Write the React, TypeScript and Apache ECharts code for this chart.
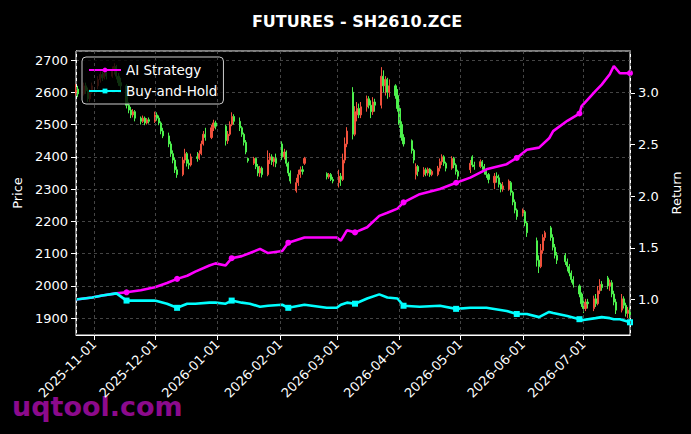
import { useEffect, useRef } from 'react';
import * as echarts from 'echarts';

// [date, open, close, low, high]
const candles: [string, number, number, number, number][] = [
  ['2025-10-23', 2600, 2610, 2590, 2625],
  ['2025-10-24', 2610, 2595, 2585, 2620],
  ['2025-10-27', 2595, 2620, 2590, 2630],
  ['2025-10-28', 2620, 2605, 2595, 2630],
  ['2025-10-29', 2605, 2580, 2570, 2615],
  ['2025-10-30', 2580, 2600, 2570, 2610],
  ['2025-10-31', 2600, 2620, 2595, 2630],
  ['2025-11-03', 2620, 2640, 2610, 2650],
  ['2025-11-04', 2640, 2655, 2630, 2665],
  ['2025-11-05', 2655, 2645, 2635, 2665],
  ['2025-11-06', 2645, 2660, 2640, 2670],
  ['2025-11-07', 2660, 2650, 2640, 2665],
  ['2025-11-10', 2650, 2670, 2645, 2680],
  ['2025-11-11', 2670, 2680, 2655, 2690],
  ['2025-11-12', 2680, 2650, 2640, 2685],
  ['2025-11-13', 2650, 2630, 2620, 2660],
  ['2025-11-14', 2630, 2620, 2600, 2645],
  ['2025-11-17', 2620, 2560, 2550, 2625],
  ['2025-11-18', 2560, 2545, 2535, 2570],
  ['2025-11-19', 2545, 2530, 2520, 2555],
  ['2025-11-20', 2530, 2540, 2522, 2548],
  ['2025-11-21', 2540, 2520, 2510, 2545],
  ['2025-11-24', 2520, 2510, 2500, 2525],
  ['2025-11-25', 2510, 2520, 2505, 2528],
  ['2025-11-26', 2520, 2505, 2498, 2525],
  ['2025-11-27', 2505, 2515, 2500, 2520],
  ['2025-11-28', 2515, 2510, 2503, 2522],
  ['2025-12-01', 2510, 2530, 2505, 2540],
  ['2025-12-02', 2530, 2520, 2512, 2538],
  ['2025-12-03', 2520, 2505, 2498, 2528],
  ['2025-12-04', 2505, 2480, 2470, 2510],
  ['2025-12-05', 2480, 2465, 2458, 2490],
  ['2025-12-08', 2465, 2440, 2430, 2475],
  ['2025-12-09', 2440, 2410, 2400, 2448],
  ['2025-12-10', 2410, 2390, 2380, 2420],
  ['2025-12-11', 2390, 2360, 2350, 2398],
  ['2025-12-12', 2360, 2345, 2335, 2370],
  ['2025-12-15', 2345, 2390, 2340, 2400],
  ['2025-12-16', 2390, 2410, 2380, 2425],
  ['2025-12-17', 2410, 2380, 2370, 2415],
  ['2025-12-18', 2380, 2375, 2362, 2392],
  ['2025-12-19', 2375, 2400, 2370, 2410],
  ['2025-12-22', 2400, 2395, 2385, 2415],
  ['2025-12-23', 2395, 2410, 2390, 2420],
  ['2025-12-24', 2410, 2440, 2405, 2450],
  ['2025-12-25', 2440, 2470, 2435, 2480],
  ['2025-12-26', 2470, 2460, 2450, 2490],
  ['2025-12-29', 2460, 2490, 2455, 2500],
  ['2025-12-30', 2490, 2505, 2480, 2515],
  ['2025-12-31', 2505, 2495, 2485, 2512],
  ['2026-01-05', 2495, 2450, 2435, 2500],
  ['2026-01-06', 2450, 2470, 2440, 2480],
  ['2026-01-07', 2470, 2500, 2465, 2510],
  ['2026-01-08', 2500, 2525, 2495, 2538],
  ['2026-01-09', 2525, 2510, 2500, 2532],
  ['2026-01-12', 2510, 2490, 2480, 2522],
  ['2026-01-13', 2490, 2470, 2462, 2495],
  ['2026-01-14', 2470, 2445, 2435, 2475],
  ['2026-01-15', 2445, 2415, 2408, 2452],
  ['2026-01-16', 2395, 2388, 2382, 2398],
  ['2026-01-19', 2380, 2395, 2375, 2400],
  ['2026-01-20', 2395, 2370, 2362, 2398],
  ['2026-01-21', 2370, 2350, 2340, 2378],
  ['2026-01-22', 2350, 2365, 2338, 2372],
  ['2026-01-23', 2365, 2345, 2336, 2370],
  ['2026-01-26', 2345, 2390, 2340, 2420],
  ['2026-01-27', 2390, 2400, 2378, 2412],
  ['2026-01-28', 2400, 2385, 2375, 2408],
  ['2026-01-29', 2385, 2395, 2370, 2400],
  ['2026-01-30', 2395, 2380, 2368, 2410],
  ['2026-02-02', 2440, 2400, 2390, 2448],
  ['2026-02-03', 2400, 2415, 2392, 2425],
  ['2026-02-04', 2415, 2380, 2370, 2420],
  ['2026-02-05', 2380, 2350, 2340, 2385],
  ['2026-02-06', 2350, 2325, 2317, 2358],
  ['2026-02-09', 2295, 2320, 2289, 2335],
  ['2026-02-10', 2320, 2345, 2310, 2360],
  ['2026-02-11', 2345, 2360, 2335, 2370],
  ['2026-02-12', 2360, 2355, 2345, 2372],
  ['2026-02-13', 2380, 2395, 2375, 2400],
  ['2026-02-24', 2348, 2338, 2330, 2352],
  ['2026-02-25', 2338, 2345, 2332, 2350],
  ['2026-02-26', 2345, 2330, 2325, 2350],
  ['2026-02-27', 2330, 2325, 2318, 2338],
  ['2026-03-02', 2320, 2340, 2305, 2360],
  ['2026-03-03', 2340, 2330, 2310, 2350],
  ['2026-03-04', 2330, 2390, 2325, 2410],
  ['2026-03-05', 2390, 2440, 2380, 2460],
  ['2026-03-06', 2440, 2480, 2430, 2492],
  ['2026-03-09', 2600, 2470, 2454, 2616],
  ['2026-03-10', 2470, 2540, 2464, 2557],
  ['2026-03-11', 2530, 2550, 2510, 2570],
  ['2026-03-12', 2550, 2530, 2520, 2565],
  ['2026-03-13', 2530, 2555, 2520, 2570],
  ['2026-03-16', 2555, 2580, 2540, 2590],
  ['2026-03-17', 2580, 2560, 2550, 2588],
  ['2026-03-18', 2560, 2540, 2520, 2575],
  ['2026-03-19', 2540, 2570, 2530, 2585],
  ['2026-03-20', 2570, 2560, 2540, 2580],
  ['2026-03-23', 2560, 2650, 2550, 2678],
  ['2026-03-24', 2650, 2620, 2600, 2668],
  ['2026-03-25', 2620, 2640, 2590, 2650],
  ['2026-03-26', 2640, 2600, 2580, 2645],
  ['2026-03-27', 2600, 2620, 2585, 2640],
  ['2026-03-30', 2620, 2590, 2580, 2625],
  ['2026-03-31', 2590, 2550, 2540, 2610],
  ['2026-04-01', 2550, 2500, 2490, 2560],
  ['2026-04-02', 2500, 2460, 2450, 2510],
  ['2026-04-03', 2460, 2440, 2432, 2470],
  ['2026-04-07', 2450, 2420, 2410, 2454],
  ['2026-04-08', 2420, 2390, 2380, 2425],
  ['2026-04-09', 2345, 2370, 2330, 2380],
  ['2026-04-10', 2370, 2355, 2340, 2375],
  ['2026-04-13', 2345, 2360, 2338, 2368],
  ['2026-04-14', 2360, 2350, 2340, 2366],
  ['2026-04-15', 2350, 2362, 2342, 2367],
  ['2026-04-16', 2362, 2345, 2338, 2365],
  ['2026-04-17', 2345, 2355, 2340, 2360],
  ['2026-04-20', 2345, 2365, 2340, 2372],
  ['2026-04-21', 2365, 2385, 2355, 2395],
  ['2026-04-22', 2385, 2400, 2375, 2408],
  ['2026-04-23', 2400, 2380, 2372, 2405],
  ['2026-04-24', 2380, 2365, 2355, 2385],
  ['2026-04-27', 2365, 2395, 2360, 2402],
  ['2026-04-28', 2395, 2375, 2365, 2400],
  ['2026-04-29', 2375, 2355, 2345, 2380],
  ['2026-04-30', 2355, 2340, 2330, 2360],
  ['2026-05-06', 2360, 2380, 2350, 2390],
  ['2026-05-07', 2400, 2375, 2368, 2405],
  ['2026-05-08', 2375, 2370, 2360, 2385],
  ['2026-05-11', 2370, 2385, 2365, 2392],
  ['2026-05-12', 2385, 2370, 2360, 2390],
  ['2026-05-13', 2370, 2355, 2345, 2378],
  ['2026-05-14', 2355, 2345, 2335, 2362],
  ['2026-05-15', 2345, 2330, 2318, 2350],
  ['2026-05-18', 2320, 2340, 2300, 2350],
  ['2026-05-19', 2340, 2335, 2320, 2352],
  ['2026-05-20', 2335, 2315, 2305, 2345],
  ['2026-05-21', 2315, 2300, 2290, 2320],
  ['2026-05-22', 2300, 2310, 2292, 2322],
  ['2026-05-25', 2300, 2325, 2295, 2330],
  ['2026-05-26', 2320, 2290, 2280, 2325],
  ['2026-05-27', 2290, 2260, 2250, 2295],
  ['2026-05-28', 2260, 2235, 2225, 2268],
  ['2026-05-29', 2235, 2215, 2205, 2240],
  ['2026-06-01', 2225, 2235, 2215, 2240],
  ['2026-06-02', 2230, 2195, 2185, 2235],
  ['2026-06-03', 2195, 2165, 2152, 2200],
  ['2026-06-08', 2140, 2080, 2060, 2150],
  ['2026-06-09', 2080, 2060, 2040, 2095],
  ['2026-06-10', 2060, 2110, 2055, 2130],
  ['2026-06-11', 2110, 2150, 2100, 2160],
  ['2026-06-12', 2150, 2165, 2140, 2171],
  ['2026-06-15', 2180, 2150, 2140, 2186],
  ['2026-06-16', 2150, 2120, 2110, 2160],
  ['2026-06-17', 2120, 2095, 2085, 2130],
  ['2026-06-18', 2095, 2080, 2068, 2105],
  ['2026-06-22', 2095, 2075, 2065, 2102],
  ['2026-06-23', 2075, 2060, 2045, 2085],
  ['2026-06-24', 2060, 2040, 2030, 2068],
  ['2026-06-25', 2040, 2020, 2010, 2048],
  ['2026-06-26', 2020, 2005, 1995, 2030],
  ['2026-06-29', 2000, 1975, 1965, 2005],
  ['2026-06-30', 1975, 1945, 1935, 1980],
  ['2026-07-01', 1945, 1930, 1916, 1955],
  ['2026-07-02', 1930, 1950, 1922, 1960],
  ['2026-07-03', 1950, 1945, 1930, 1960],
  ['2026-07-06', 1930, 1960, 1922, 1970],
  ['2026-07-07', 1960, 1945, 1935, 1975],
  ['2026-07-08', 1945, 1985, 1940, 2000],
  ['2026-07-09', 1985, 2005, 1975, 2021],
  ['2026-07-10', 2005, 1995, 1985, 2015],
  ['2026-07-13', 2025, 2000, 1990, 2031],
  ['2026-07-14', 2000, 2010, 1985, 2020],
  ['2026-07-15', 2010, 1975, 1965, 2018],
  ['2026-07-16', 1975, 1950, 1940, 1985],
  ['2026-07-17', 1950, 1925, 1913, 1960],
  ['2026-07-20', 1925, 1960, 1918, 1975],
  ['2026-07-21', 1960, 1940, 1930, 1968],
  ['2026-07-22', 1940, 1915, 1905, 1948],
  ['2026-07-23', 1915, 1925, 1900, 1935],
  ['2026-07-24', 1925, 1910, 1900, 1932],
];

const lineDates = [
  '2025-10-23', '2025-10-31', '2025-11-05', '2025-11-12', '2025-11-17', '2025-11-24',
  '2025-12-01', '2025-12-07', '2025-12-12', '2025-12-17', '2025-12-21', '2025-12-28',
  '2025-12-31', '2026-01-05', '2026-01-08', '2026-01-13', '2026-01-17', '2026-01-22',
  '2026-01-26', '2026-02-02', '2026-02-05', '2026-02-13', '2026-02-24', '2026-03-01',
  '2026-03-03', '2026-03-06', '2026-03-10', '2026-03-16', '2026-03-22', '2026-03-26',
  '2026-03-31', '2026-04-03', '2026-04-11', '2026-04-21', '2026-04-29', '2026-05-06',
  '2026-05-14', '2026-05-24', '2026-05-29', '2026-06-03', '2026-06-09', '2026-06-14',
  '2026-06-16', '2026-06-23', '2026-06-29', '2026-06-30', '2026-07-07', '2026-07-10',
  '2026-07-14', '2026-07-16', '2026-07-19', '2026-07-24',
];

const aiStrategy = [
  1.00, 1.02, 1.04, 1.06, 1.07, 1.09,
  1.12, 1.16, 1.20, 1.23, 1.27, 1.33,
  1.35, 1.33, 1.40, 1.42, 1.45, 1.49,
  1.45, 1.47, 1.55, 1.60, 1.60, 1.60,
  1.57, 1.67, 1.65, 1.70, 1.81, 1.84,
  1.88, 1.94, 2.02, 2.07, 2.13, 2.18,
  2.26, 2.31, 2.37, 2.45, 2.47, 2.56,
  2.63, 2.73, 2.80, 2.87, 3.02, 3.08,
  3.18, 3.26, 3.19, 3.19,
];

const buyHold = [
  1.00, 1.02, 1.04, 1.06, 0.99, 0.99,
  0.99, 0.96, 0.92, 0.96, 0.96, 0.97,
  0.97, 0.96, 0.99, 0.97, 0.96, 0.93,
  0.94, 0.95, 0.92, 0.95, 0.92, 0.92,
  0.95, 0.97, 0.96, 1.01, 1.05, 1.02,
  1.01, 0.94, 0.93, 0.94, 0.91, 0.92,
  0.92, 0.89, 0.86, 0.86, 0.83, 0.88,
  0.87, 0.84, 0.81, 0.80, 0.82, 0.83,
  0.82, 0.81, 0.81, 0.78,
];

const markerDates = [
  '2025-11-17', '2025-12-12', '2026-01-08', '2026-02-05', '2026-03-10',
  '2026-04-03', '2026-04-29', '2026-05-29', '2026-06-29', '2026-07-24',
];

const FONT = 'DejaVu Sans';

const t = (s: string) => {
  const [y, m, d] = s.split('-').map(Number);
  return new Date(y, m - 1, d).getTime();
};

const pad = (n: number) => (n < 10 ? '0' + n : '' + n);
const fmtDate = (v: number) => {
  const d = new Date(v);
  return d.getFullYear() + '-' + pad(d.getMonth() + 1) + '-' + pad(d.getDate());
};

const App = () => {
  const chartRef = useRef<HTMLDivElement | null>(null);

  useEffect(() => {
    if (!chartRef.current) return;
    const chart = echarts.init(chartRef.current, null, { renderer: 'svg' });

    const lineData = (vals: number[]) =>
      lineDates.map((d, i) => ({
        value: [t(d), vals[i]],
        symbol: markerDates.includes(d) ? undefined : 'none',
      }));

    const option = {
      animation: false,
      backgroundColor: '#000000',
      textStyle: { fontFamily: FONT },
      title: {
        text: 'FUTURES - SH2610.ZCE',
        left: 352,
        top: 8,
        textAlign: 'center',
        textStyle: { color: '#ffffff', fontSize: 16, fontWeight: 'bold', fontFamily: FONT },
      },
      legend: {
        data: ['AI Strategy', 'Buy-and-Hold'],
        orient: 'vertical',
        left: 82,
        top: 57,
        itemWidth: 32,
        itemHeight: 6,
        itemGap: 7,
        padding: [6, 6, 6, 6],
        backgroundColor: 'rgba(0,0,0,0.8)',
        borderColor: '#cccccc',
        borderWidth: 1,
        borderRadius: 4,
        textStyle: { color: '#ffffff', fontSize: 13.5, fontFamily: FONT, lineHeight: 14 },
      },
      grid: {
        left: 76,
        right: 61,
        top: 51,
        bottom: 99,
        show: true,
        borderColor: '#ffffff',
        borderWidth: 1,
      },
      graphic: [
        {
          type: 'text',
          left: 12,
          top: 393,
          z: -1,
          style: {
            text: 'uqtool.com',
            fill: '#8c0a8c',
            font: 'bold 27px "DejaVu Sans"',
          },
        },
      ],
      xAxis: {
        type: 'time',
        min: t('2025-10-23'),
        max: t('2026-07-24'),
        splitNumber: 9,
        z: 5,
        axisLine: { lineStyle: { color: '#ffffff' } },
        axisTick: { length: 5, lineStyle: { color: '#ffffff' } },
        axisLabel: {
          rotate: 45,
          color: '#ffffff',
          fontSize: 13,
          fontFamily: FONT,
          margin: 7,
          showMinLabel: false,
          showMaxLabel: false,
          hideOverlap: false,
          formatter: (v: number) => fmtDate(v),
        },
        splitLine: { show: true, lineStyle: { color: '#555555', type: [3, 3], width: 0.8 } },
      },
      yAxis: [
        {
          type: 'value',
          min: 1848,
          max: 2728,
          splitNumber: 9,
          name: 'Price',
          nameLocation: 'middle',
          nameGap: 50,
          nameRotate: 90,
          nameTextStyle: { color: '#ffffff', fontSize: 13, fontFamily: FONT },
          axisLine: { show: true, lineStyle: { color: '#ffffff' } },
          axisTick: { show: true, length: 5, lineStyle: { color: '#ffffff' } },
          axisLabel: {
            color: '#ffffff',
            fontSize: 13,
            fontFamily: FONT,
            margin: 8,
            showMinLabel: false,
            showMaxLabel: false,
            formatter: (v: number) => String(Math.round(v)),
          },
          splitLine: { show: true, lineStyle: { color: '#555555', type: [3, 3], width: 0.8 } },
        },
        {
          type: 'value',
          position: 'right',
          min: 0.657,
          max: 3.405,
          splitNumber: 5,
          name: 'Return',
          nameLocation: 'middle',
          nameGap: 38,
          nameRotate: 90,
          nameTextStyle: { color: '#ffffff', fontSize: 13, fontFamily: FONT },
          axisLine: { show: true, lineStyle: { color: '#ffffff' } },
          axisTick: { show: true, length: 5, lineStyle: { color: '#ffffff' } },
          axisLabel: {
            color: '#ffffff',
            fontSize: 13,
            fontFamily: FONT,
            margin: 8,
            showMinLabel: false,
            showMaxLabel: false,
            formatter: (v: number) => v.toFixed(1),
          },
          splitLine: { show: false },
        },
      ],
      series: [
        {
          name: 'Price',
          type: 'candlestick',
          yAxisIndex: 0,
          barWidth: 1.6,
          data: candles.map((c) => [t(c[0]), c[1], c[2], c[3], c[4]]),
          itemStyle: {
            color: '#f0503c',
            color0: '#4cf04c',
            borderColor: '#f0503c',
            borderColor0: '#4cf04c',
            borderWidth: 1,
          },
        },
        {
          name: 'AI Strategy',
          type: 'line',
          yAxisIndex: 1,
          symbol: 'circle',
          symbolSize: 6,
          showAllSymbol: true,
          lineStyle: { color: '#ff00ff', width: 2.6 },
          itemStyle: { color: '#ff00ff' },
          data: lineData(aiStrategy),
          z: 3,
        },
        {
          name: 'Buy-and-Hold',
          type: 'line',
          yAxisIndex: 1,
          symbol: 'rect',
          symbolSize: 6,
          showAllSymbol: true,
          lineStyle: { color: '#00ffff', width: 2.6 },
          itemStyle: { color: '#00ffff' },
          data: lineData(buyHold),
          z: 3,
        },
      ],
    };

    chart.setOption(option as any);
    return () => {
      chart.dispose();
    };
  }, []);

  return (
    <div
      ref={chartRef}
      style={{ position: 'fixed', left: 0, top: 0, width: '691px', height: '434px', background: '#000' }}
    />
  );
};

export default App;
